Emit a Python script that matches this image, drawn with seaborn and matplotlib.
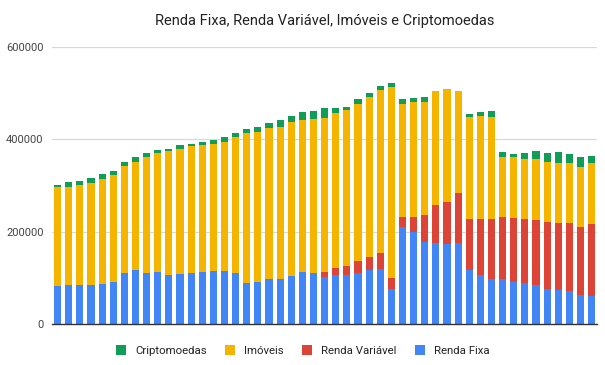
import pandas as pd
import seaborn as sns
import matplotlib.pyplot as plt
from matplotlib.ticker import FuncFormatter

# valores por mes (em milhares)
renda_fixa = [83, 85, 85, 85, 87, 92, 111, 117, 111, 113, 106, 109, 111, 113, 114, 114, 111,
              89, 91, 97, 98, 105, 113, 111, 103, 106, 106, 110, 117, 120, 77, 211, 199,
              177, 175, 173, 175, 117, 106, 97, 97, 91, 89, 85, 75, 73, 71, 64, 61]
renda_variavel = [0, 0, 0, 0, 0, 0, 0, 0, 0, 0, 0, 0, 0, 0, 0, 0, 0,
                  0, 0, 0, 0, 0, 0, 0, 10, 15, 19, 27, 28, 35, 22, 21, 34,
                  60, 82, 91, 108, 110, 122, 130, 135, 139, 138, 140, 147, 147, 149, 147, 156]
imoveis = [213, 213, 217, 221, 227, 230, 231, 234, 250, 258, 270, 270, 274, 275, 276, 280, 294,
           325, 326, 328, 329, 332, 330, 334, 334, 336, 338, 340, 346, 351, 415, 245, 247,
           245, 247, 245, 222, 222, 222, 222, 130, 131, 131, 132, 129, 128, 128, 130, 131]
cripto = [6, 9, 8, 11, 11, 10, 10, 10, 10, 7, 4, 8, 6, 7, 8, 12, 9,
          8, 11, 11, 15, 14, 16, 16, 20, 10, 8, 10, 10, 9, 9, 10, 9,
          10, 0, 0, 0, 6, 10, 12, 11, 7, 12, 17, 19, 25, 20, 20, 16]

series = ['Renda Fixa', 'Renda Variável', 'Imóveis', 'Criptomoedas']
colors = ['#4285F4', '#DB4437', '#F4B400', '#0F9D58']

df = pd.DataFrame({'mes': range(len(renda_fixa)),
                   'Renda Fixa': renda_fixa,
                   'Renda Variável': renda_variavel,
                   'Imóveis': imoveis,
                   'Criptomoedas': cripto})
# empilhado: soma acumulada, valores em reais
cum = df[series].cumsum(axis=1) * 1000
cum['mes'] = df['mes']

sns.set_style('white')
plt.rcParams['font.family'] = ['Roboto', 'DejaVu Sans']

fig = plt.figure(figsize=(6.05, 3.65), dpi=100)
ax = fig.add_axes([0.086, 0.112, 0.901, 0.759])

# desenha do topo para a base
for name, color in reversed(list(zip(series, colors))):
    sns.barplot(data=cum, x='mes', y=name, color=color, width=0.64,
                label=name, ax=ax, linewidth=0, saturation=1)

ax.set_ylim(0, 600000)
ax.set_yticks([0, 200000, 400000, 600000])
ax.yaxis.set_major_formatter(FuncFormatter(lambda v, p: f'{int(v)}'))
ax.set_xticks([])
ax.set_xlabel('')
ax.set_ylabel('')
ax.tick_params(axis='y', length=0, pad=6, labelsize=8, labelcolor='#444444')
ax.grid(axis='y', color='#d9d9d9', linewidth=0.9)
ax.set_axisbelow(True)
for s in ['top', 'right', 'left']:
    ax.spines[s].set_visible(False)
ax.spines['bottom'].set_color('#333333')
ax.spines['bottom'].set_linewidth(1)

ax.set_title('Renda Fixa, Renda Variável, Imóveis e Criptomoedas',
             fontsize=10.5, color='#222222', pad=16)

handles, labels = ax.get_legend_handles_labels()
ax.legend(handles, labels, loc='upper center', bbox_to_anchor=(0.46, -0.04),
          ncol=4, frameon=False, fontsize=8.2, handlelength=0.9, handleheight=0.9,
          handletextpad=0.8, columnspacing=1.6, labelcolor='#222222')

fig.savefig('out.png', dpi=100)
